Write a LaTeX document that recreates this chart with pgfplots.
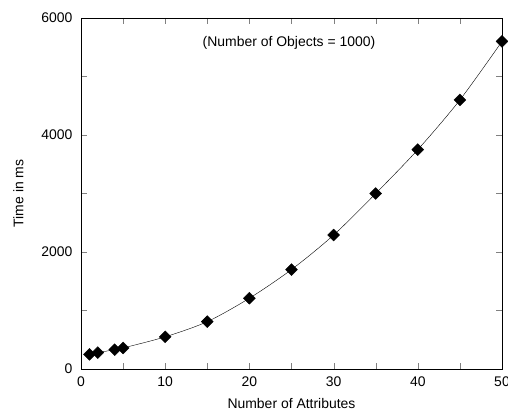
\documentclass[border=0pt]{standalone}
\usepackage{fontspec}
\setmainfont{Liberation Sans}
\usepackage{pgfplots}
\usetikzlibrary{calc}
\pgfplotsset{compat=1.18}
\begin{document}
\begin{tikzpicture}[x=1bp,y=1bp]
\begin{axis}[
  width=421bp, height=351bp, scale only axis,
  xmin=0, xmax=50, ymin=0, ymax=6000,
  xtick={0,10,20,30,40,50},
  minor xtick={5,15,25,35,45},
  ytick={0,2000,4000,6000},
  minor ytick={1000,3000,5000},
  tick align=inside,
  major tick length=6bp, minor tick length=6bp,
  scaled y ticks=false,
  /pgf/number format/assume math mode=true,
  /pgf/number format/set thousands separator={},
  tick label style={font=\fontsize{14}{16}\selectfont},
  label style={font=\fontsize{14}{16}\selectfont},
  xticklabel style={yshift=-4bp},
  yticklabel style={xshift=-5bp},
  xlabel={Number of Attributes},
  ylabel={Time in ms},
  xlabel style={yshift=-5bp},
  ylabel style={yshift=11bp},
  axis line style={black},
]
\addplot[black, smooth, mark=square*, mark size=4.2bp, mark options={fill=black, rotate=45}] coordinates {
(1,250)(2,280)(4,330)(5,360)(10,550)(15,810)(20,1210)(25,1700)(30,2290)(35,3000)(40,3750)(45,4600)(50,5600)
};
\node[font=\fontsize{14}{16}\selectfont] at (axis cs:24.7,5570) {(Number of Objects = 1000)};
\coordinate (ll) at (rel axis cs:0,0);
\coordinate (ur) at (rel axis cs:1,1);
\end{axis}
\pgfresetboundingbox
\path ($(ll)+(-81bp,-43bp)$) rectangle ($(ur)+(6bp,18bp)$);
\end{tikzpicture}
\end{document}
